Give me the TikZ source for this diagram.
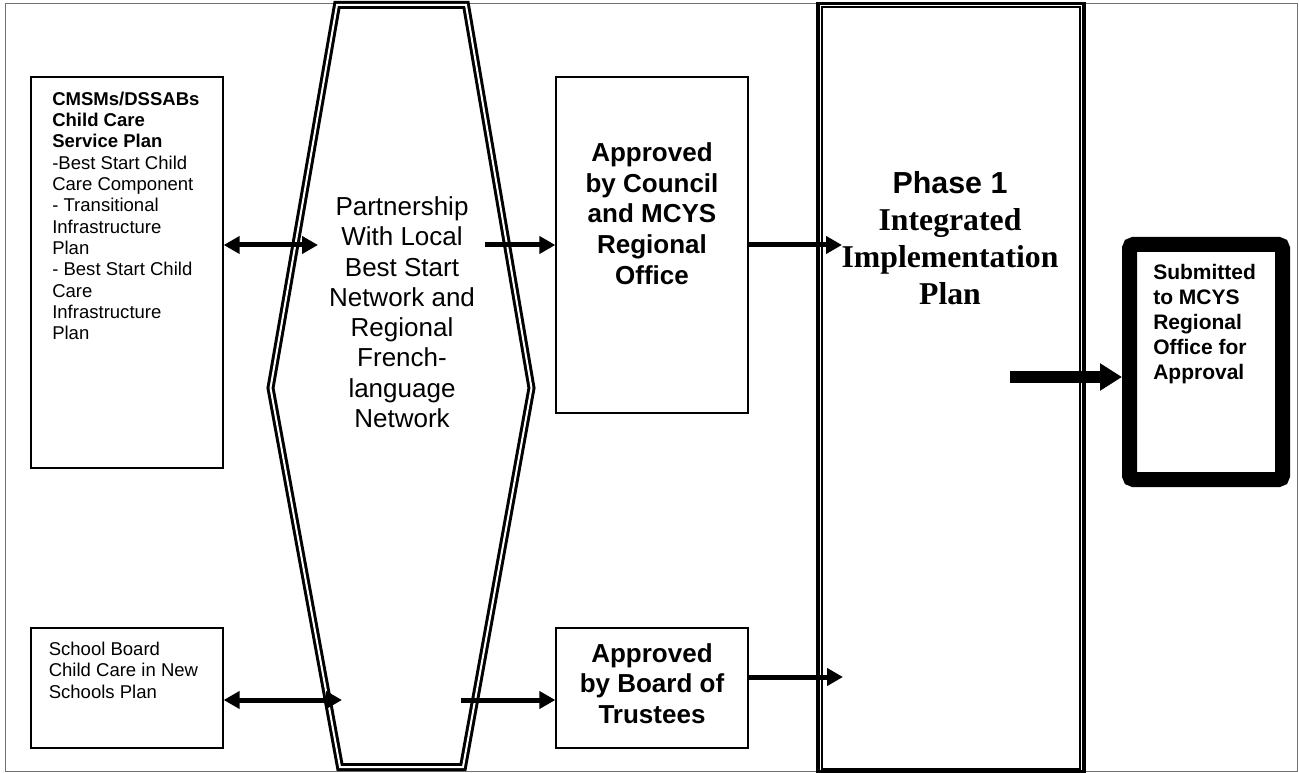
\documentclass[tikz,border=0pt]{standalone}
\usepackage{fontspec}
\setmainfont{Liberation Sans}
\newfontfamily\timesfont{Liberation Serif}
\usetikzlibrary{arrows.meta,positioning}
\newlength\pxu
\setlength\pxu{0.75pt}

\begin{document}
\begin{tikzpicture}[
  x=0.75pt, y=-0.75pt,
  planbox/.style={draw, line width=1.3\pxu, inner sep=0pt},
  plantext/.style={inner sep=0pt, align=left, anchor=north west},
  headtext/.style={inner sep=0pt, align=center, anchor=north},
  flow/.style={line width=5\pxu, -{Triangle[length=12pt, width=12.75pt]}},
  both/.style={line width=5\pxu, {Triangle[length=12pt, width=12.75pt]}-{Triangle[length=12pt, width=12.75pt]}},
  bigflow/.style={line width=12\pxu, -{Triangle[length=16.5pt, width=19.5pt]}}
]
  \useasboundingbox (0,0) rectangle (1299,773);
  % outer frame
  \draw[black!55, line width=1\pxu] (5,4) rectangle (1297,771);

  % partnership hexagon
  \draw[double, line width=3\pxu, double distance=2\pxu, fill=white]
    (337,5) -- (466,5) -- (531.5,388) -- (463,767) -- (340,767) -- (270.5,388) -- cycle;
  \node[headtext, font=\fontsize{19.5}{22.7}\selectfont] (partner) at (402,196.5)
    {Partnership\\With Local\\Best Start\\Network and\\Regional\\French-\\language\\Network};

  % plan boxes
  \node[planbox, minimum width=192\pxu, minimum height=391\pxu] (cmsm) at (127,272.5) {};
  \node[planbox, minimum width=192\pxu, minimum height=120\pxu] (school) at (127,688) {};
  \node[planbox, minimum width=192\pxu, minimum height=336\pxu] (council) at (652,245) {};
  \node[planbox, minimum width=192\pxu, minimum height=120\pxu] (board) at (652,688) {};

  \node[plantext, font=\fontsize{13.9}{16}\selectfont] (cmsmtext) at (52,91.5)
    {\textbf{CMSMs/DSSABs}\\\textbf{Child Care}\\\textbf{Service Plan}\\-Best Start Child\\Care Component\\- Transitional\\Infrastructure\\Plan\\- Best Start Child\\Care\\Infrastructure\\Plan};
  \node[plantext, font=\fontsize{13.9}{16.3}\selectfont] (schooltext) at (48.5,641.5)
    {School Board\\Child Care in New\\Schools Plan};
  \node[headtext, font=\bfseries\fontsize{19.5}{23}\selectfont] (counciltext) at (652,142.5)
    {Approved\\by Council\\and MCYS\\Regional\\Office};
  \node[headtext, font=\bfseries\fontsize{19.5}{23}\selectfont] (boardtext) at (652,643)
    {Approved\\by Board of\\Trustees};

  % phase 1 box
  \node[draw, line width=3.5\pxu, fill=white, inner sep=0pt, minimum width=266\pxu, minimum height=768.5\pxu] (phase) at (951,387.75) {};
  \draw[line width=2\pxu] ([shift={(5.75,5)}]phase.north west) rectangle ([shift={(-5.75,-5)}]phase.south east);
  \node[headtext, font=\bfseries\fontsize{22.8}{27.7}\selectfont] (phasetext) at (950,171.5)
    {Phase 1\\{\timesfont\fontsize{23.8}{27.7}\selectfont Integrated}\\{\timesfont\fontsize{23.8}{27.7}\selectfont Implementation}\\{\timesfont\fontsize{23.8}{27.7}\selectfont Plan}};

  % submission box
  \node[draw, line width=15\pxu, rounded corners=4\pxu, minimum width=153\pxu, minimum height=235\pxu] (submit) at (1206,362) {};
  \node[plantext, font=\bfseries\fontsize{15.75}{18.75}\selectfont] (submittext) at (1153,264.5)
    {Submitted\\to MCYS\\Regional\\Office for\\Approval};

  % free arrow ends
  \coordinate (pA) at (318,245);
  \coordinate (pB) at (485,245);
  \coordinate (pC) at (842,245);
  \coordinate (pD) at (1010,377);
  \coordinate (pE) at (342,700);
  \coordinate (pF) at (461,700);
  \coordinate (pG) at (843,677);

  \draw[both] (cmsm.east |- pA) -- (pA);
  \draw[flow] (pB) -- (council);
  \draw[flow] (council) -- (pC);
  \draw[both] (school.east |- pE) -- (pE);
  \draw[flow] (pF) -- (board.west |- pF);
  \draw[flow] (board.east |- pG) -- (pG);
  \draw[bigflow] (pD) -- (submit.west |- pD);
\end{tikzpicture}
\end{document}
